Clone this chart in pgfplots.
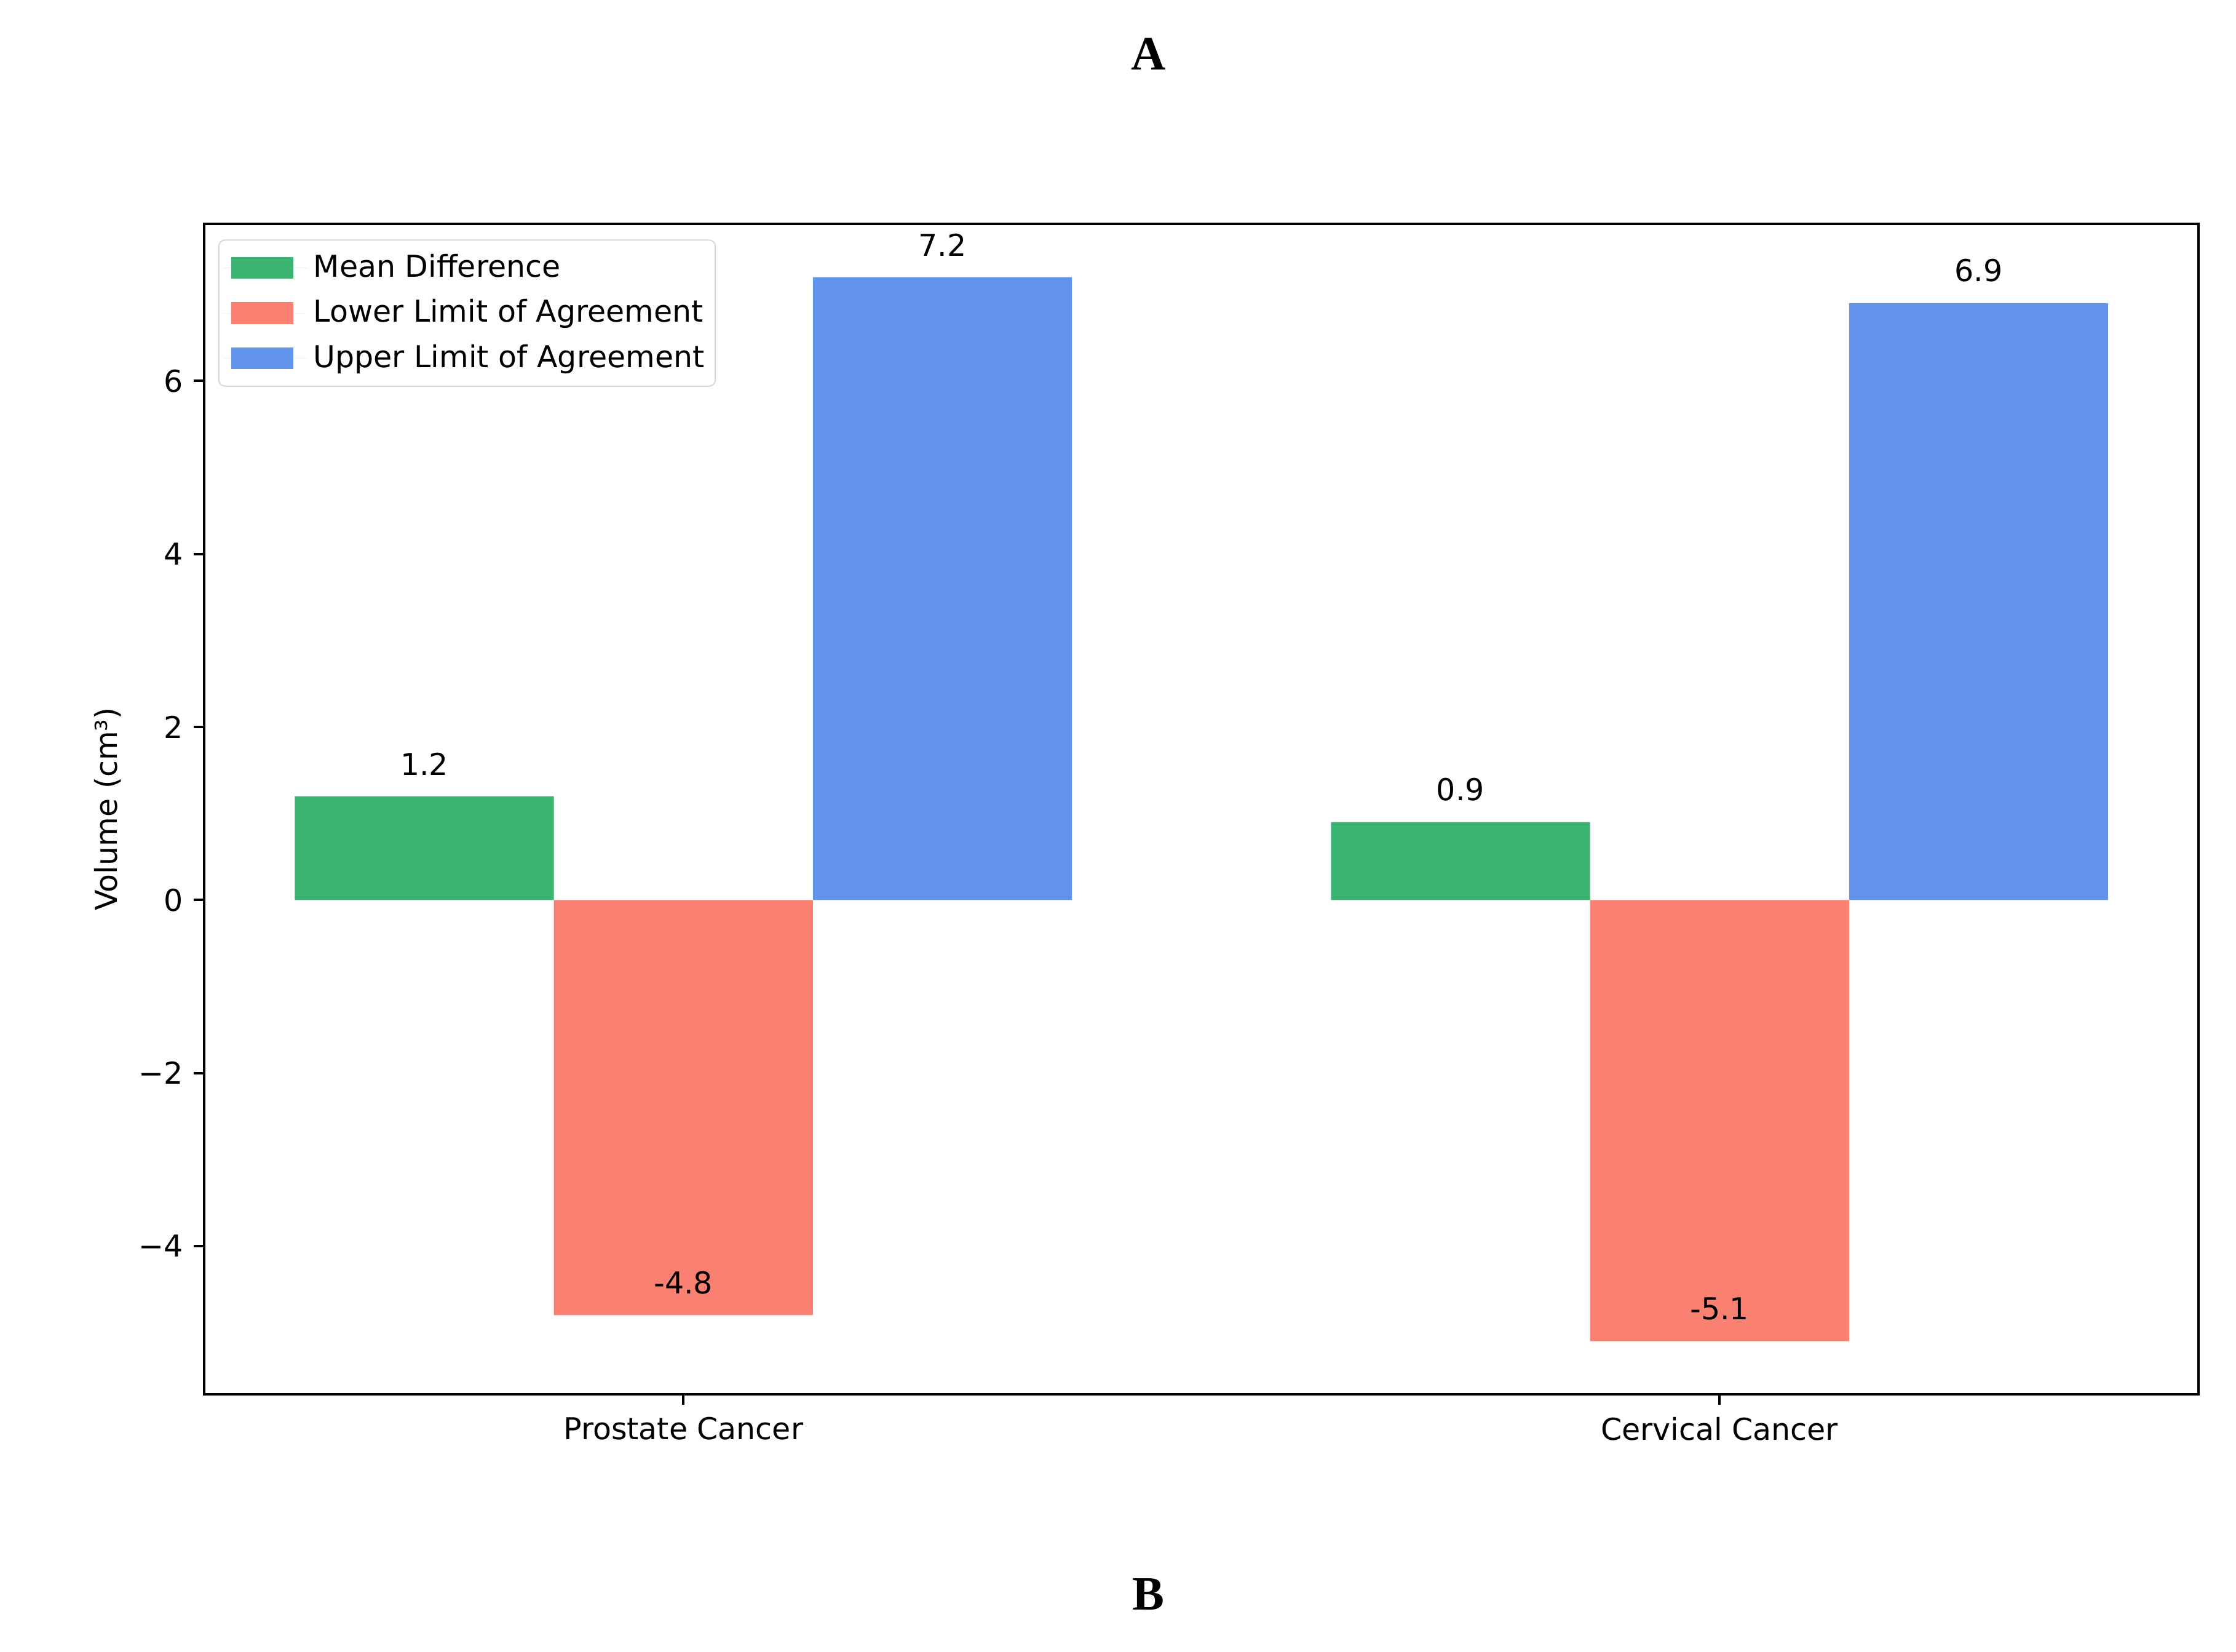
\documentclass[border=0pt]{standalone}
\usepackage{fontspec}
\setmainfont{DejaVu Sans}
\newfontfamily\letterfont{Liberation Serif}
\usepackage{pgfplots}
\pgfplotsset{compat=1.18}

\definecolor{meandiff}{HTML}{3CB371}
\definecolor{lowerloa}{HTML}{FA8072}
\definecolor{upperloa}{HTML}{6495ED}

\newcommand\chartfont{\fontsize{9.7}{11.6}\selectfont}

\begin{document}
\begin{tikzpicture}
\useasboundingbox (-65.74pt,-82.77pt) rectangle (654.2pt,448.9pt);
\begin{axis}[
    at={(0,0)}, anchor=south west,
    scale only axis, width=642.2pt, height=376.8pt,
    ybar, bar width=0.25,
    xmin=-0.4625, xmax=1.4625,
    ymin=-5.715, ymax=7.815,
    xtick={0,1},
    xticklabels={Prostate Cancer, Cervical Cancer},
    ytick={-4,-2,0,2,4,6},
    yticklabels={−4,−2,0,2,4,6},
    tick label style={font=\chartfont},
    xticklabel style={yshift=-0.5pt},
    label style={font=\chartfont},
    xtick pos=lower, ytick pos=left,
    tick align=outside,
    major tick length=3.3pt,
    tick style={black, line width=0.8pt},
    axis line style={line width=0.8pt},
    ylabel={Volume (cm³)},
    ylabel style={at={(axis description cs:0,0.5)}, anchor=center, yshift=31pt},
    /pgf/number format/assume math mode=true,
    legend style={
        at={(axis description cs:0,1)}, anchor=north west,
        xshift=4.5pt, yshift=-5pt,
        draw=black!15, rounded corners=2pt,
        inner xsep=1.5pt, inner ysep=2.5pt,
        row sep=1.7pt,
        cells={anchor=west},
        font=\chartfont,
    },
    legend image code/.code={
        \fill[#1, sharp corners] (0pt,-3.5pt) rectangle (20pt,3.5pt);
        \path (-2.5pt,0pt) -- (24.5pt,0pt);
    },
    legend cell align=left,
    point meta=y,
    nodes near coords={\pgfmathprintnumber[fixed,fixed zerofill,precision=1,assume math mode=true]{\pgfplotspointmeta}},
    every node near coord/.append style={anchor=south, yshift=3.3pt, black, font=\chartfont},
    clip=false,
]
\addplot[bar shift=-0.25, fill=meandiff, draw=none] coordinates {(0,1.2) (1,0.9)};
\addlegendentry{Mean Difference}
\addplot[bar shift=0, fill=lowerloa, draw=none] coordinates {(0,-4.8) (1,-5.1)};
\addlegendentry{Lower Limit of Agreement}
\addplot[bar shift=0.25, fill=upperloa, draw=none] coordinates {(0,7.2) (1,6.9)};
\addlegendentry{Upper Limit of Agreement}
\end{axis}
\node[font=\letterfont\bfseries\fontsize{15.4}{18}\selectfont] at (304pt,431.5pt) {A};
\node[font=\letterfont\bfseries\fontsize{15.4}{18}\selectfont] at (304pt,-64.4pt) {B};
\end{tikzpicture}
\end{document}
